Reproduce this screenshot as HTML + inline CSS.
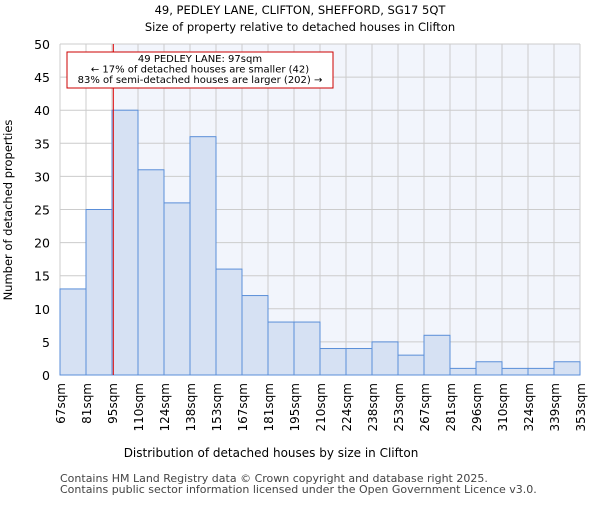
<!DOCTYPE html>
<html><head><meta charset="utf-8"><style>
body{margin:0;background:#fff;font-family:"Liberation Sans","DejaVu Sans",sans-serif;}
svg text{font-family:"DejaVu Sans","Liberation Sans",sans-serif;}
</style></head><body>
<svg id="c" width="600" height="500">
<text x="300" y="14" text-anchor="middle" font-size="11.5">49, PEDLEY LANE, CLIFTON, SHEFFORD, SG17 5QT</text>
<text x="300" y="31" text-anchor="middle" font-size="11.5">Size of property relative to detached houses in Clifton</text>
<g id="plot"></g>
<text x="271" y="457" text-anchor="middle" font-size="12">Distribution of detached houses by size in Clifton</text>
<text transform="translate(12,210) rotate(-90)" text-anchor="middle" font-size="11.5">Number of detached properties</text>
<text x="60" y="482" font-size="11" fill="#444">Contains HM Land Registry data © Crown copyright and database right 2025.</text>
<text x="60" y="493" font-size="11" fill="#444">Contains public sector information licensed under the Open Government Licence v3.0.</text>
</svg>
<script>
const labels=["67sqm","81sqm","95sqm","110sqm","124sqm","138sqm","153sqm","167sqm","181sqm","195sqm","210sqm","224sqm","238sqm","253sqm","267sqm","281sqm","296sqm","310sqm","324sqm","339sqm","353sqm"];
const counts=[13,25,40,31,26,36,16,12,8,8,4,4,5,3,6,1,2,1,1,2];
const yTicks=[0,5,10,15,20,25,30,35,40,45,50];
const propertyIndex=2.05;
const X0=60,X1=580,Y0=375,Y1=44,NS="http://www.w3.org/2000/svg";
const n=counts.length,bw=(X1-X0)/n;
const xs=i=>X0+i*bw, ys=v=>Y0-(v/50)*(Y0-Y1);
const g=document.getElementById('plot');
function mk(t,a){const e=document.createElementNS(NS,t);for(const k in a)e.setAttribute(k,a[k]);g.appendChild(e);return e;}
const px=xs(propertyIndex);
let e=mk('rect',{x:px,y:Y1,width:X1-px,height:Y0-Y1,fill:'#f2f5fc'});


yTicks.forEach(t=>{let l=mk('line',{x1:X0,x2:X1,y1:ys(t),y2:ys(t),stroke:'#ccc'});


let tx=mk('text',{x:X0-10,y:ys(t)+5,'text-anchor':'end','font-size':12.5});tx.textContent=t;

});
labels.forEach((s,i)=>{let l=mk('line',{x1:xs(i),x2:xs(i),y1:Y1,y2:Y0,stroke:'#ccc'});


let tx=mk('text',{x:0,y:0,'text-anchor':'end','font-size':12,transform:`translate(${xs(i)+5},383) rotate(-90)`});tx.textContent=s;

});
counts.forEach((v,i)=>{let r=mk('rect',{x:xs(i),y:ys(v),width:bw,height:Y0-ys(v),fill:'#d6e1f3',stroke:'#5a8ed8','stroke-width':1});

});
e=mk('line',{x1:px,x2:px,y1:Y1,y2:Y0,stroke:'#dd0000','stroke-width':1});


e=mk('rect',{x:67,y:52,width:266,height:36,fill:'#fff',stroke:'#cc0000'});


["49 PEDLEY LANE: 97sqm","← 17% of detached houses are smaller (42)","83% of semi-detached houses are larger (202) →"].forEach((s,i)=>{
let t=mk('text',{x:200,y:62+i*10.5,'text-anchor':'middle','font-size':10});t.textContent=s;

});
</script>
</body></html>
